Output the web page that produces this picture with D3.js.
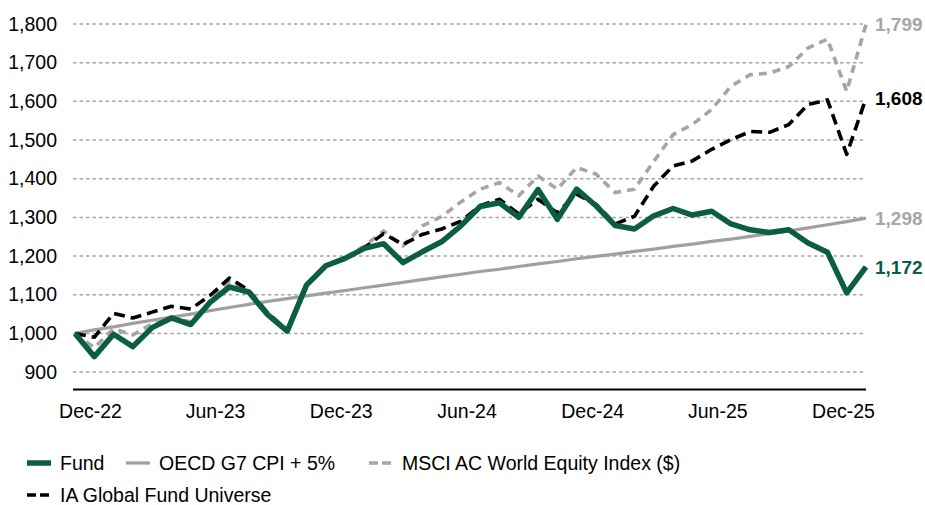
<!DOCTYPE html>
<html lang="en">

<head>
  <meta charset="UTF-8">
  <title>Fund performance</title>
  <style>
    body { margin: 0; background: #fff; }
    text { font-family: "Liberation Sans", Arial, sans-serif; }
  </style>
</head>

<body>
  <svg id="svg" width="925" height="505"></svg>

  <script src="https://d3js.org/d3.v7.min.js"></script>
  <script>

    // values rebased to 1,000, one per period
    const fund = [1000, 940, 998, 966, 1015, 1040, 1023, 1080, 1120, 1107, 1048, 1006, 1125, 1175,
      1194, 1220, 1232, 1183, 1211, 1237, 1278, 1328, 1338, 1300, 1372, 1295, 1373, 1330,
      1279, 1270, 1304, 1323, 1306, 1316, 1283, 1268, 1261, 1268, 1234, 1210, 1105, 1172]

    const cpi = [1000, 1009, 1017, 1026, 1034, 1042, 1050, 1059, 1067, 1075, 1083, 1090, 1097, 1104,
      1111, 1118, 1125, 1132, 1139, 1146, 1153, 1160, 1166, 1173, 1180, 1186, 1193, 1199,
      1205, 1212, 1218, 1225, 1231, 1238, 1244, 1251, 1258, 1265, 1273, 1281, 1289, 1298]

    const msci = [1000, 963, 1012, 996, 1025, 1040, 1030, 1085, 1133, 1108, 1048, 1008, 1125, 1176,
      1196, 1226, 1265, 1226, 1278, 1302, 1340, 1373, 1390, 1356, 1407, 1373, 1429, 1412,
      1364, 1373, 1445, 1514, 1540, 1579, 1639, 1669, 1673, 1690, 1738, 1761, 1626, 1799]

    const ia = [1000, 990, 1052, 1040, 1055, 1070, 1063, 1098, 1143, 1112, 1052, 1008, 1127, 1176,
      1194, 1222, 1258, 1230, 1256, 1270, 1290, 1330, 1347, 1309, 1347, 1312, 1360, 1334,
      1283, 1303, 1381, 1433, 1446, 1476, 1501, 1522, 1520, 1540, 1592, 1604, 1463, 1608]

    const tickLabels = ['Dec-22', 'Jun-23', 'Dec-23', 'Jun-24', 'Dec-24', 'Jun-25', 'Dec-25']
    const yTicks = [900, 1000, 1100, 1200, 1300, 1400, 1500, 1600, 1700, 1800]

    const green = '#0b5e42'
    const grey = '#a6a6a6'

    const svg = d3.select('#svg')

    const xScale = d3.scaleLinear()
      .domain([0, fund.length - 1])
      .range([75, 866])

    // label positions follow the dates on the axis
    const parse = d3.timeParse('%b-%y')
    const tScale = d3.scaleTime()
      .domain([parse('Dec-22'), parse('Dec-25')])
      .range([90, 843])

    const yScale = d3.scaleLinear()
      .domain([855, 1800])
      .range([389.5, 24])

    // gridlines
    svg.append('g')
      .selectAll('line')
      .data(yTicks)
      .enter()
      .append('line')
      .attr('x1', 73)
      .attr('x2', 866)
      .attr('y1', d => yScale(d))
      .attr('y2', d => yScale(d))
      .attr('stroke', grey)
      .attr('stroke-width', 1.5)
      .attr('stroke-dasharray', '3.5,3')

    // y axis labels
    const yAxis = svg.append('g')
      .attr('transform', 'translate(57,0)')
      .call(d3.axisLeft(yScale).tickValues(yTicks).tickSize(0).tickPadding(0)
        .tickFormat(d3.format(',')))
    yAxis.select('.domain').remove()
    yAxis.selectAll('text')
      .attr('font-size', 19.5)
      .attr('fill', '#000')
      .attr('font-family', '"Liberation Sans", Arial, sans-serif')

    // x axis line and labels
    svg.append('line')
      .attr('x1', xScale.range()[0] - 2)
      .attr('x2', xScale.range()[1])
      .attr('y1', 389.5)
      .attr('y2', 389.5)
      .attr('stroke', '#000')
      .attr('stroke-width', 2)

    const xAxis = svg.append('g')
      .attr('transform', 'translate(0,400)')
      .call(d3.axisBottom(tScale).tickValues(tickLabels.map(parse)).tickSize(0).tickPadding(4)
        .tickFormat(d3.timeFormat('%b-%y')))
    xAxis.select('.domain').remove()
    xAxis.selectAll('text')
      .attr('font-size', 19.5)
      .attr('fill', '#000')
      .attr('font-family', '"Liberation Sans", Arial, sans-serif')

    const line = d3.line()
      .x((d, i) => xScale(i))
      .y(d => yScale(d))

    const series = [
      { name: 'OECD G7 CPI + 5%', values: cpi, color: '#a0a0a0', width: 3.2, dash: null },
      { name: 'MSCI AC World Equity Index ($)', values: msci, color: grey, width: 3.6, dash: '8,6' },
      { name: 'IA Global Fund Universe', values: ia, color: '#000', width: 3.6, dash: '11,6' },
      { name: 'Fund', values: fund, color: green, width: 5.5, dash: null }
    ]

    svg.append('g')
      .selectAll('path')
      .data(series)
      .enter()
      .append('path')
      .attr('d', d => line(d.values))
      .attr('fill', 'none')
      .attr('stroke', d => d.color)
      .attr('stroke-width', d => d.width)
      .attr('stroke-dasharray', d => d.dash)
      .attr('stroke-linejoin', 'round')

    // end value labels
    const endLabels = [
      { values: msci, color: grey },
      { values: ia, color: '#000' },
      { values: cpi, color: grey },
      { values: fund, color: green }
    ]
    svg.append('g')
      .selectAll('text')
      .data(endLabels)
      .enter()
      .append('text')
      .attr('x', xScale.range()[1] + 9)
      .attr('y', d => yScale(d.values[d.values.length - 1]))
      .attr('dy', '0.35em')
      .attr('font-size', 19)
      .attr('font-weight', 'bold')
      .attr('fill', d => d.color)
      .text(d => d3.format(',')(d.values[d.values.length - 1]))

    // legend
    const legend = [
      { s: series[3], x: 27, y: 463 },
      { s: series[0], x: 126, y: 463 },
      { s: series[1], x: 369, y: 463 },
      { s: series[2], x: 27, y: 495 }
    ]
    const lg = svg.append('g')
      .selectAll('g')
      .data(legend)
      .enter()
      .append('g')
      .attr('transform', d => `translate(${d.x},${d.y})`)

    lg.append('line')
      .attr('x1', 0)
      .attr('x2', 24)
      .attr('stroke', d => d.s.color)
      .attr('stroke-width', d => d.s.width)
      .attr('stroke-dasharray', d => d.s.dash ? '9,4' : null)

    lg.append('text')
      .attr('x', 33)
      .attr('dy', '0.35em')
      .attr('font-size', 19.5)
      .attr('fill', '#000')
      .text(d => d.s.name)

  </script>
</body>

</html>
